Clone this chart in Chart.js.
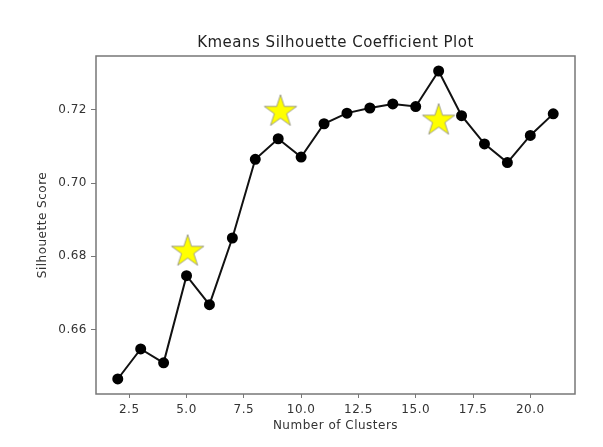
<!DOCTYPE html>
<html>
<head>
<meta charset="utf-8">
<script src="https://cdn.jsdelivr.net/npm/chart.js@4"></script>
<style>
  html, body { margin: 0; padding: 0; background: #fff; }
  #wrap { width: 603px; height: 447px; }
</style>
</head>
<body>
<div id="wrap"><canvas id="chart" width="603" height="447"></canvas></div>
<script>
const clusters = [2, 3, 4, 5, 6, 7, 8, 9, 10, 11, 12, 13, 14, 15, 16, 17, 18, 19, 20, 21];
const scores = [0.6465, 0.6547, 0.6509, 0.6747, 0.6668, 0.6850, 0.7065, 0.7121, 0.7071, 0.7162,
                0.7191, 0.7205, 0.7216, 0.7209, 0.7306, 0.7184, 0.7107, 0.7056, 0.7130, 0.7189];
const starX = [5.05, 9.1, 16];
const starY = [0.6813, 0.7195, 0.7171];
const xTicks = [2.5, 5.0, 7.5, 10.0, 12.5, 15.0, 17.5, 20.0];
const yTicks = [0.66, 0.68, 0.70, 0.72];
const chartTitle = 'Kmeans Silhouette Coefficient Plot';

const FONT = 'DejaVu Sans';
const TEXT = '#333';
const SPINE = '#777';

function makeStar(r) {
  const size = Math.ceil(r * 2 + 4);
  const c = document.createElement('canvas');
  c.width = size; c.height = size;
  const g = c.getContext('2d');
  const cx = size / 2, cy = size / 2, inner = r * 0.382;
  g.beginPath();
  for (let i = 0; i < 10; i++) {
    const rad = i % 2 === 0 ? r : inner;
    const a = -Math.PI / 2 + i * Math.PI / 5;
    const px = cx + rad * Math.cos(a), py = cy + rad * Math.sin(a);
    if (i === 0) g.moveTo(px, py); else g.lineTo(px, py);
  }
  g.closePath();
  g.fillStyle = '#ffff00';
  g.fill();
  g.lineWidth = 0.8;
  g.strokeStyle = '#888';
  g.stroke();
  return c;
}

// blurry source text reads a little wider than plain DejaVu
const spacing = {
  id: 'spacing',
  beforeDraw(chart) { chart.ctx.letterSpacing = '0.5px'; }
};

// box around the plot + title centred over the axes, like matplotlib
const frame = {
  id: 'frame',
  afterDraw(chart) {
    const a = chart.chartArea, ctx = chart.ctx;
    ctx.save();
    ctx.strokeStyle = SPINE;
    ctx.lineWidth = 1.5;
    ctx.strokeRect(a.left, a.top, a.right - a.left, a.bottom - a.top);
    ctx.fillStyle = '#222';
    ctx.font = '15px "' + FONT + '"';
    ctx.letterSpacing = '0.5px';
    ctx.textAlign = 'center';
    ctx.textBaseline = 'middle';
    ctx.fillText(chartTitle, (a.left + a.right) / 2, a.top - 13);
    ctx.restore();
  }
};

new Chart(document.getElementById('chart'), {
  type: 'scatter',
  data: {
    datasets: [
      {
        data: clusters.map((x, i) => ({ x, y: scores[i] })),
        showLine: true,
        borderColor: '#111',
        borderWidth: 2,
        pointBackgroundColor: '#000',
        pointBorderColor: '#000',
        pointRadius: 4.5,
        order: 2
      },
      {
        data: starX.map((x, i) => ({ x, y: starY[i] })),
        pointStyle: makeStar(17),
        order: 1
      }
    ]
  },
  plugins: [spacing, frame],
  options: {
    responsive: false,
    animation: false,
    layout: { padding: { left: 0, top: 56, right: 28, bottom: 0 } },
    plugins: {
      legend: { display: false },
      tooltip: { enabled: false },
      title: { display: false }
    },
    scales: {
      x: {
        type: 'linear',
        min: 1.05,
        max: 21.95,
        afterBuildTicks: axis => { axis.ticks = xTicks.map(v => ({ value: v })); },
        afterFit: axis => { axis.height = 53; },
        grid: { drawOnChartArea: false, tickLength: 4, color: SPINE, tickWidth: 1 },
        border: { display: false },
        ticks: {
          color: TEXT, padding: 5,
          font: { family: FONT, size: 12 },
          maxRotation: 0,
          callback: v => v.toFixed(1)
        },
        title: {
          display: true, text: 'Number of Clusters', color: TEXT,
          font: { family: FONT, size: 12 }, padding: { top: 0, bottom: 14 }
        }
      },
      y: {
        type: 'linear',
        min: 0.6424,
        max: 0.7347,
        afterBuildTicks: axis => { axis.ticks = yTicks.map(v => ({ value: v })); },
        afterFit: axis => { axis.width = 96; },
        grid: { drawOnChartArea: false, tickLength: 5, color: SPINE, tickWidth: 1 },
        border: { display: false },
        ticks: {
          color: TEXT, padding: 4,
          font: { family: FONT, size: 12 },
          callback: v => v.toFixed(2)
        },
        title: {
          display: true, text: 'Silhouette Score', color: TEXT,
          font: { family: FONT, size: 12 }, padding: { top: 36, bottom: 0 }
        }
      }
    }
  }
});
</script>
</body>
</html>
